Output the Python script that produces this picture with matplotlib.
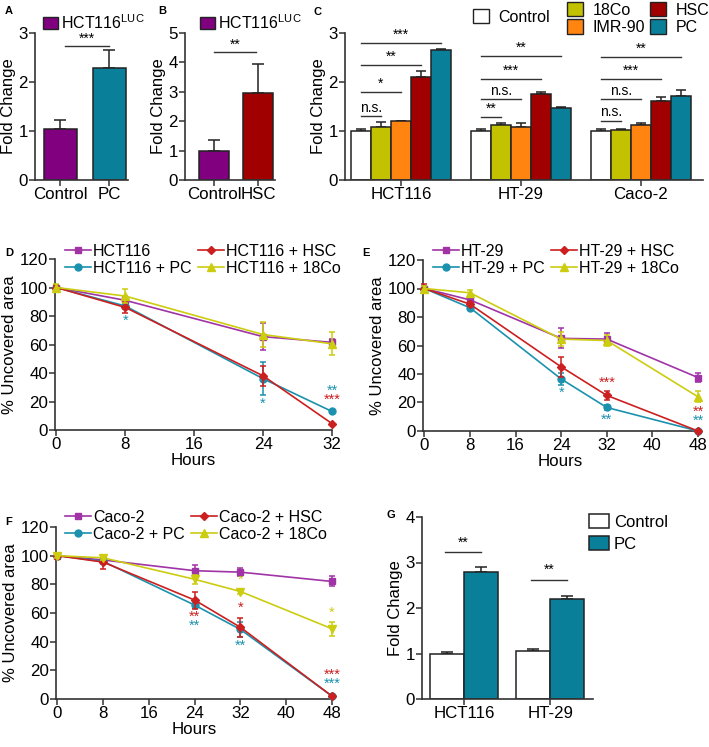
import matplotlib
matplotlib.use('Agg')
from matplotlib import pyplot as plt
from matplotlib.patches import Patch
from matplotlib.lines import Line2D

plt.rcParams['font.family'] = ['Liberation Sans', 'DejaVu Sans']
plt.rcParams['font.size'] = 11.5
plt.rcParams['mathtext.fontset'] = 'custom'
plt.rcParams['mathtext.rm'] = 'Liberation Sans'
plt.rcParams['legend.borderaxespad'] = 0
plt.rcParams['legend.borderpad'] = 0
plt.rcParams['legend.frameon'] = False

# ---- data ----
a_labels = ['Control', 'PC']
a_vals = [1.05, 2.28]
a_err = [0.17, 0.37]

b_labels = ['Control', 'HSC']
b_vals = [1.0, 2.95]
b_err = [0.37, 1.0]

c_groups = ['HCT116', 'HT-29', 'Caco-2']
c_series = ['Control', '18Co', 'IMR-90', 'HSC', 'PC']
c_vals = [[1.0, 1.0, 1.0],
          [1.08, 1.12, 1.03],
          [1.20, 1.09, 1.12],
          [2.11, 1.75, 1.61],
          [2.65, 1.47, 1.71]]
c_err = [[0.05, 0.05, 0.05],
         [0.10, 0.04, 0.01],
         [0.01, 0.08, 0.04],
         [0.11, 0.04, 0.08],
         [0.03, 0.02, 0.13]]
# (bar index compared with control, height, label) per group
c_sig = [[(1, 1.30, 'n.s.'), (2, 1.80, '*'), (3, 2.34, '**'), (4, 2.80, '***')],
         [(1, 1.28, '**'), (2, 1.65, 'n.s.'), (3, 2.06, '***'), (4, 2.53, '**')],
         [(1, 1.21, 'n.s.'), (2, 1.65, 'n.s.'), (3, 2.06, '***'), (4, 2.51, '**')]]

d_hours = [0, 8, 24, 32]
d_names = ['HCT116', 'HCT116 + PC', 'HCT116 + HSC', 'HCT116 + 18Co']
d_vals = [[100, 91, 65.5, 61.5],
          [100, 87, 36, 13],
          [100, 86, 38, 4.5],
          [100, 94, 67, 60.5]]
d_err = [[2, 3, 9.5, 2.5],
         [1.5, 2, 11.5, 1],
         [2, 4, 7, 0.5],
         [2.5, 5, 8.5, 8]]
d_stars = [(8, 76.5, '*', 1), (24, 18.7, '*', 1), (32, 27.6, '**', 1), (32, 21, '***', 2)]

e_hours = [0, 8, 24, 32, 48]
e_names = ['HT-29', 'HT-29 + PC', 'HT-29 + HSC', 'HT-29 + 18Co']
e_vals = [[100, 92, 65, 64.5, 37.5],
          [100, 86.5, 36.5, 16.5, 0],
          [100, 89, 45, 25, 0],
          [100, 97, 64.5, 63.5, 24]]
e_err = [[2, 2, 7, 4, 3],
         [1.5, 1, 4, 2, 0.5],
         [3, 1.5, 7, 3, 0.5],
         [2, 2, 5, 4, 4]]
e_stars = [(24, 27, '*', 1), (32, 34, '***', 2), (32, 8, '**', 1), (48, 13.6, '**', 2), (48, 7, '**', 1)]

f_hours = [0, 8, 24, 32, 48]
f_names = ['Caco-2', 'Caco-2 + PC', 'Caco-2 + HSC', 'Caco-2 + 18Co']
f_vals = [[100, 97, 89.5, 88.5, 82],
          [100, 96, 65.5, 48.5, 2],
          [100, 95.5, 69, 50, 2],
          [100, 98.5, 83.5, 75, 49]]
f_err = [[2, 2, 4, 3, 3.5],
         [1.5, 2, 2, 5, 0.5],
         [2, 4.5, 6, 6.5, 0.5],
         [1.5, 1.5, 3, 2, 5]]
f_stars = [(24, 57.3, '**', 2), (24, 50.8, '**', 1), (32, 82.9, '*', 3), (32, 63.8, '*', 2),
           (32, 37.4, '**', 1), (48, 60.4, '*', 3), (48, 17.2, '***', 2), (48, 10.9, '***', 1)]

g_groups = ['HCT116', 'HT-29']
g_ctrl = [1.0, 1.05]
g_ctrl_err = [0.04, 0.04]
g_pc = [2.79, 2.19]
g_pc_err = [0.11, 0.08]
g_sig = [3.22, 2.62]

# ---- styles ----
PURPLE = '#800080'
TEAL = '#0a7f99'
DARKRED = '#a00000'
OLIVE = '#c2c200'
ORANGE = '#ff8410'
c_colors = ['white', OLIVE, ORANGE, DARKRED, TEAL]
line_colors = ['#a033a6', '#1b91ad', '#cc1f1f', '#cccc10']
markers = ['s', 'o', 'D', '^']
msizes = [5, 5, 4.5, 5.5]
EDGE = '#222222'
TICK_FS = 12.2
LAB_FS = 12
STAR_FS = 10

W, H = 709, 747
fig = plt.figure(figsize=(W / 100, H / 100), dpi=100)


def px_axes(x0, y0, x1, y1):
    ax = fig.add_axes([x0 / W, 1 - y1 / H, (x1 - x0) / W, (y1 - y0) / H])
    for s in ['top', 'right']:
        ax.spines[s].set_visible(False)
    for s in ['left', 'bottom']:
        ax.spines[s].set_linewidth(1.2)
        ax.spines[s].set_color('#333333')
    ax.tick_params(direction='out', length=4, width=1.1, color='#333333', labelsize=TICK_FS, pad=1)
    return ax


def fig_anchor(x, y):
    return dict(loc='upper left', bbox_to_anchor=(x / W, 1 - y / H), bbox_transform=fig.transFigure)


def panel_label(x, y, s):
    fig.text(x / W, 1 - y / H, s, fontsize=8, fontweight='bold', ha='left', va='center')


def sig_line(ax, x0, x1, y, label):
    ax.plot([x0, x1], [y, y], color='#333333', lw=1.0, clip_on=False)
    ax.text((x0 + x1) / 2, y, label, ha='center', va='bottom', fontsize=STAR_FS)


def bar_err(ax, x, v, e, cap=4):
    ax.errorbar(x, v, yerr=[[0] * len(e), e], fmt='none', ecolor=EDGE, elinewidth=1.1,
                capsize=cap, capthick=1.1, zorder=1)


# ---- A ----
axA = px_axes(35, 33, 128, 180)
axA.bar([0, 1], a_vals, width=0.67, color=[PURPLE, TEAL], edgecolor=EDGE, linewidth=1.1, zorder=2)
bar_err(axA, [0, 1], a_vals, a_err)
axA.set_xlim(-0.52, 1.38)
axA.set_ylim(0, 3)
axA.set_yticks([0, 1, 2, 3])
axA.set_xticks([0, 1], a_labels)
axA.set_ylabel('Fold Change', labelpad=2, fontsize=LAB_FS)
sig_line(axA, 0.1, 1.0, 2.73, '***')
axA.legend(handles=[Patch(facecolor=PURPLE, edgecolor=EDGE, label='HCT116$^{\\mathregular{LUC}}$')],
           handlelength=0.95, handleheight=0.75, handletextpad=0.2, **fig_anchor(43, 13))
panel_label(5, 11, 'A')

# ---- B ----
axB = px_axes(185, 33, 275, 180)
axB.bar([0, 1], b_vals, width=0.68, color=[PURPLE, DARKRED], edgecolor=EDGE, linewidth=1.1, zorder=2)
bar_err(axB, [0, 1], b_vals, b_err)
axB.set_xlim(-0.67, 1.38)
axB.set_ylim(0, 5)
axB.set_yticks([0, 1, 2, 3, 4, 5])
axB.set_xticks([0, 1], b_labels)
axB.set_ylabel('Fold Change', labelpad=2, fontsize=LAB_FS)
sig_line(axB, 0.0, 0.95, 4.35, '**')
axB.legend(handles=[Patch(facecolor=PURPLE, edgecolor=EDGE, label='HCT116$^{\\mathregular{LUC}}$')],
           handlelength=0.95, handleheight=0.75, handletextpad=0.2, **fig_anchor(200, 13))
panel_label(158, 11, 'B')

# ---- C ----
axC = px_axes(345, 33, 703, 180)
for i, name in enumerate(c_series):
    xs = [g * 6 + i for g in range(len(c_groups))]
    axC.bar(xs, c_vals[i], width=1.0, color=c_colors[i], edgecolor=EDGE, linewidth=1.1, zorder=2, label=name)
    bar_err(axC, xs, c_vals[i], c_err[i], cap=3.5)
for g, sigs in enumerate(c_sig):
    for idx, y, lab in sigs:
        axC.plot([g * 6, g * 6 + idx], [y, y], color='#333333', lw=1.0)
        axC.text(g * 6 + idx / 2, y + 0.03, lab, ha='center', va='bottom',
                 fontsize=10 if lab == 'n.s.' else STAR_FS)
axC.set_xlim(-0.8, 17.1)
axC.set_ylim(0, 3)
axC.set_yticks([0, 1, 2, 3])
axC.set_xticks([g * 6 + 2 for g in range(len(c_groups))], c_groups)
axC.set_ylabel('Fold Change', labelpad=2, fontsize=LAB_FS)
hC = [Patch(facecolor=c_colors[i], edgecolor=EDGE, label=c_series[i]) for i in range(5)]
legC1 = axC.legend(handles=hC[:1], handlelength=1.0, handleheight=1.0, handletextpad=0.6,
                   **fig_anchor(473, 9))
axC.add_artist(legC1)
axC.legend(handles=[hC[1], hC[2], hC[3], hC[4]], ncol=2, handlelength=1.0, handleheight=1.0,
           handletextpad=0.6, labelspacing=0.1, columnspacing=0.3, **fig_anchor(567, 2))
panel_label(313, 12, 'C')


# ---- D, E, F ----
def line_panel(ax, hours, names, vals, errs, stars, xmax, xticks, marker_list, leg_xy):
    handles = []
    for i in range(4):
        ax.errorbar(hours, vals[i], yerr=errs[i], color=line_colors[i], lw=1.2, marker=marker_list[i],
                    ms=msizes[i], capsize=2.5, elinewidth=1.1, capthick=1.1, clip_on=False, zorder=3 + i)
        handles.append(Line2D([], [], color=line_colors[i], lw=1.2, marker=markers[i], ms=msizes[i],
                              label=names[i]))
    for x, y, s, ci in stars:
        ax.text(x, y, s, color=line_colors[ci], ha='center', va='center', fontsize=STAR_FS + 0.5)
    ax.set_xlim(-0.005 * xmax, xmax)
    ax.set_ylim(0, 120)
    ax.set_yticks(range(0, 121, 20))
    ax.set_xticks(xticks)
    ax.set_xlabel('Hours', labelpad=1, fontsize=TICK_FS)
    ax.set_ylabel('% Uncovered area', labelpad=2, fontsize=LAB_FS)
    ax.legend(handles=handles, ncol=2, handlelength=1.6, handletextpad=0.15, labelspacing=0.1,
              columnspacing=0.4, **fig_anchor(*leg_xy))


axD = px_axes(55, 259, 332, 430)
line_panel(axD, d_hours, d_names, d_vals, d_err, d_stars, 32, [0, 8, 16, 24, 32], markers, (65, 244))
panel_label(5, 253, 'D')

axE = px_axes(423, 260, 698, 431)
line_panel(axE, e_hours, e_names, e_vals, e_err, e_stars, 48, [0, 8, 16, 24, 32, 40, 48], markers, (433, 244))
panel_label(362, 253, 'E')

axF = px_axes(56, 527, 332, 699)
line_panel(axF, f_hours, f_names, f_vals, f_err, f_stars, 48, [0, 8, 16, 24, 32, 40, 48],
           ['s', 'o', 'D', 'v'], (65, 510))
panel_label(5, 522, 'F')

# ---- G ----
axG = px_axes(422, 517, 593, 699)
g_x = [0, 2.53]
axG.bar(g_x, g_ctrl, width=1.0, color='white', edgecolor=EDGE, linewidth=1.1, zorder=2, label='Control')
axG.bar([x + 1 for x in g_x], g_pc, width=1.0, color=TEAL, edgecolor=EDGE, linewidth=1.1, zorder=2, label='PC')
bar_err(axG, g_x, g_ctrl, g_ctrl_err)
bar_err(axG, [x + 1 for x in g_x], g_pc, g_pc_err)
for x, y in zip(g_x, g_sig):
    axG.plot([x - 0.05, x + 1.0], [y, y], color='#333333', lw=1.0)
    axG.text(x + 0.47, y + 0.06, '**', ha='center', va='bottom', fontsize=STAR_FS)
axG.set_xlim(-0.74, 4.29)
axG.set_ylim(0, 4)
axG.set_yticks([0, 1, 2, 3, 4])
axG.set_xticks([x + 0.5 for x in g_x], g_groups)
axG.set_ylabel('Fold Change', labelpad=2, fontsize=LAB_FS)
axG.legend(handlelength=1.2, handleheight=0.9, handletextpad=0.3, labelspacing=0.4, fontsize=12,
           **fig_anchor(589, 514))
panel_label(386, 515, 'G')

fig.savefig('out.png', dpi=100)
